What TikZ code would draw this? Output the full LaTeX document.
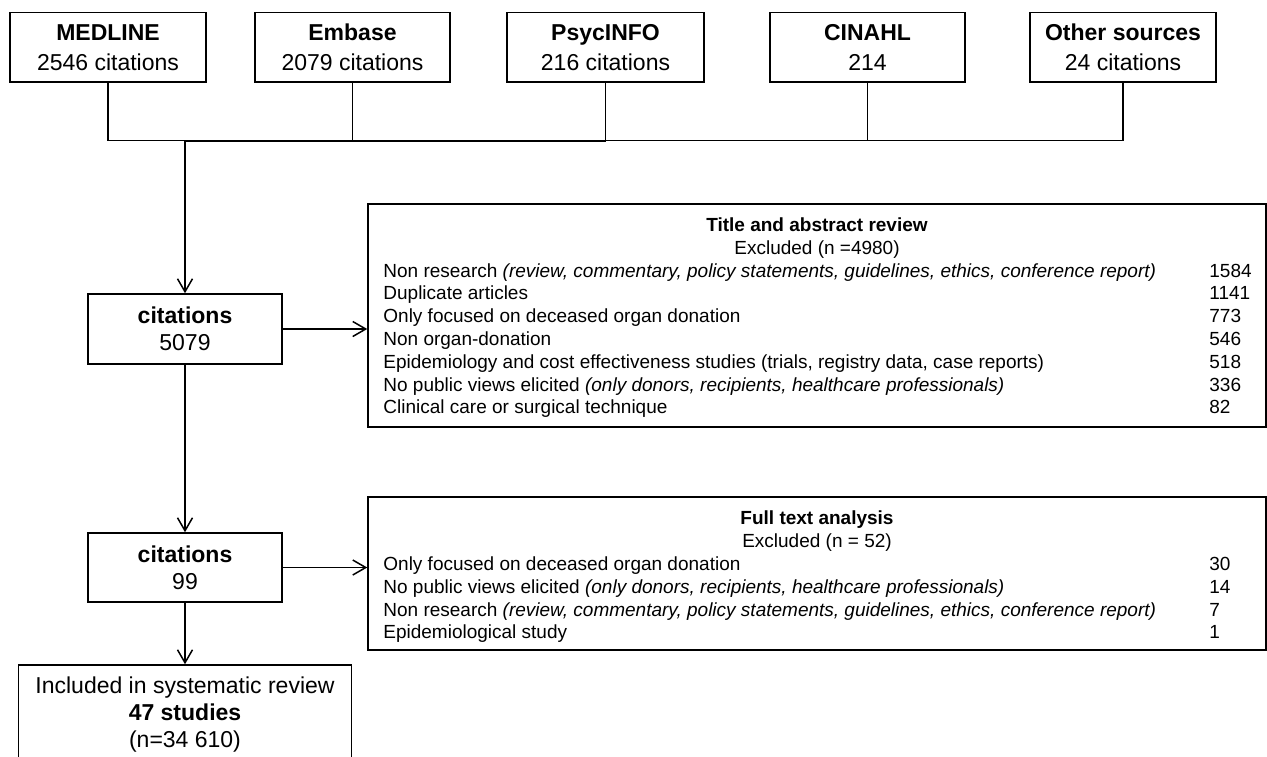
\documentclass[tikz,border=0pt]{standalone}
\usepackage{fontspec}
\setmainfont{Liberation Sans}
\usetikzlibrary{arrows.meta}
\begin{document}
\begin{tikzpicture}[x=0.5pt,y=-0.5pt,
  ln/.style={line width=0.75pt},
  arr/.style={line width=0.75pt,-{Straight Barb[length=6.5pt,width=7.5pt,line width=0.75pt]}},
  srcbox/.style={draw,line width=0.75pt,inner sep=0pt,align=center,minimum height=34.7pt,
    font=\fontsize{11.5}{15}\selectfont},
  flowbox/.style={draw,line width=0.75pt,inner sep=0pt,align=center,
    font=\fontsize{11.5}{13.5}\selectfont},
  exbox/.style={draw,line width=0.75pt,inner sep=0pt,minimum width=449pt},
  lst/.style={inner sep=0pt,font=\fontsize{9.5}{11.4}\selectfont}
]
\useasboundingbox (0,0) rectangle (1267,756);
\clip (0,0) rectangle (1267,756);

% source boxes
\node[srcbox,minimum width=98pt]   (medline) at (108,47.3)   {\textbf{MEDLINE}\\2546 citations};
\node[srcbox,minimum width=97.5pt] (embase)  at (352.5,47.3) {\textbf{Embase}\\2079 citations};
\node[srcbox,minimum width=98.5pt] (psyc)    at (605.5,47.3) {\textbf{PsycINFO}\\216 citations};
\node[srcbox,minimum width=97.5pt] (cinahl)  at (867.5,47.3) {\textbf{CINAHL}\\214};
\node[srcbox,minimum width=93pt]   (other)   at (1123,47.3)  {\textbf{Other sources}\\24 citations};

\coordinate (bus) at (185,140.5);

% flow boxes
\node[flowbox,minimum width=97pt,minimum height=35pt]   (c1)  at (185,329)     {\textbf{citations}\\5079};
\node[flowbox,minimum width=97pt,minimum height=34.5pt] (c2)  at (185,567.5)   {\textbf{citations}\\99};
\node[flowbox,minimum width=166.5pt,minimum height=50pt](inc) at (185,715)     {Included in systematic review\\\textbf{47 studies}\\(n=34 610)};

% exclusion boxes
\node[exbox,minimum height=111.5pt] (ex1) at (817,315.5) {};
\node[exbox,minimum height=76.5pt]  (ex2) at (817,573.5) {};

% texts of box 1
\node[lst,anchor=base] (t1) at (817,231) {\textbf{Title and abstract review}};
\node[lst,anchor=base] (e1) at (817,254.5) {Excluded (n =4980)};
\node[lst,anchor=base west] (r11) at (383,277.1) {Non research \textit{(review, commentary, policy statements, guidelines, ethics, conference report)}};
\node[lst,anchor=base west] (r12) at (383,299.9) {Duplicate articles};
\node[lst,anchor=base west] (r13) at (383,322.7) {Only focused on deceased organ donation};
\node[lst,anchor=base west] (r14) at (383,345.5) {Non organ-donation};
\node[lst,anchor=base west] (r15) at (383,368.3) {Epidemiology and cost effectiveness studies (trials, registry data, case reports)};
\node[lst,anchor=base west] (r16) at (383,391.1) {No public views elicited \textit{(only donors, recipients, healthcare professionals)}};
\node[lst,anchor=base west] (r17) at (383,413.9) {Clinical care or surgical technique};
\node[lst,anchor=base west] (n11) at (1209,277.1) {1584};
\node[lst,anchor=base west] (n12) at (1209,299.9) {1141};
\node[lst,anchor=base west] (n13) at (1209,322.7) {773};
\node[lst,anchor=base west] (n14) at (1209,345.5) {546};
\node[lst,anchor=base west] (n15) at (1209,368.3) {518};
\node[lst,anchor=base west] (n16) at (1209,391.1) {336};
\node[lst,anchor=base west] (n17) at (1209,413.9) {82};

% texts of box 2
\node[lst,anchor=base] (t2) at (817,524.8) {\textbf{Full text analysis}};
\node[lst,anchor=base] (e2) at (817,547.7) {Excluded (n = 52)};
\node[lst,anchor=base west] (r21) at (383,570.5) {Only focused on deceased organ donation};
\node[lst,anchor=base west] (r22) at (383,593.3) {No public views elicited \textit{(only donors, recipients, healthcare professionals)}};
\node[lst,anchor=base west] (r23) at (383,616.1) {Non research \textit{(review, commentary, policy statements, guidelines, ethics, conference report)}};
\node[lst,anchor=base west] (r24) at (383,638.9) {Epidemiological study};
\node[lst,anchor=base west] (n21) at (1209,570.5) {30};
\node[lst,anchor=base west] (n22) at (1209,593.3) {14};
\node[lst,anchor=base west] (n23) at (1209,616.1) {7};
\node[lst,anchor=base west] (n24) at (1209,638.9) {1};

% connectors from sources
\draw[ln] (medline.south) -- (medline.south |- bus) -- (other.south |- bus) -- (other.south);
\draw[ln] (embase.south) -- (embase.south |- bus);
\draw[ln] (psyc.south) -- (psyc.south |- bus);
\draw[ln] (cinahl.south) -- (cinahl.south |- bus);
\draw[line width=1.3pt] ([yshift=-0.3pt]bus) -- ([yshift=-0.3pt]psyc.south |- bus);

% flow arrows
\draw[arr,line width=1pt] (bus) -- (c1.north);
\draw[arr] (c1.south) -- (c2.north);
\draw[arr] (c2.south) -- (inc.north);
\draw[arr] (c1.east) -- (c1.east -| ex1.west);
\draw[arr] (c2.east) -- (c2.east -| ex2.west);
\end{tikzpicture}
\end{document}
